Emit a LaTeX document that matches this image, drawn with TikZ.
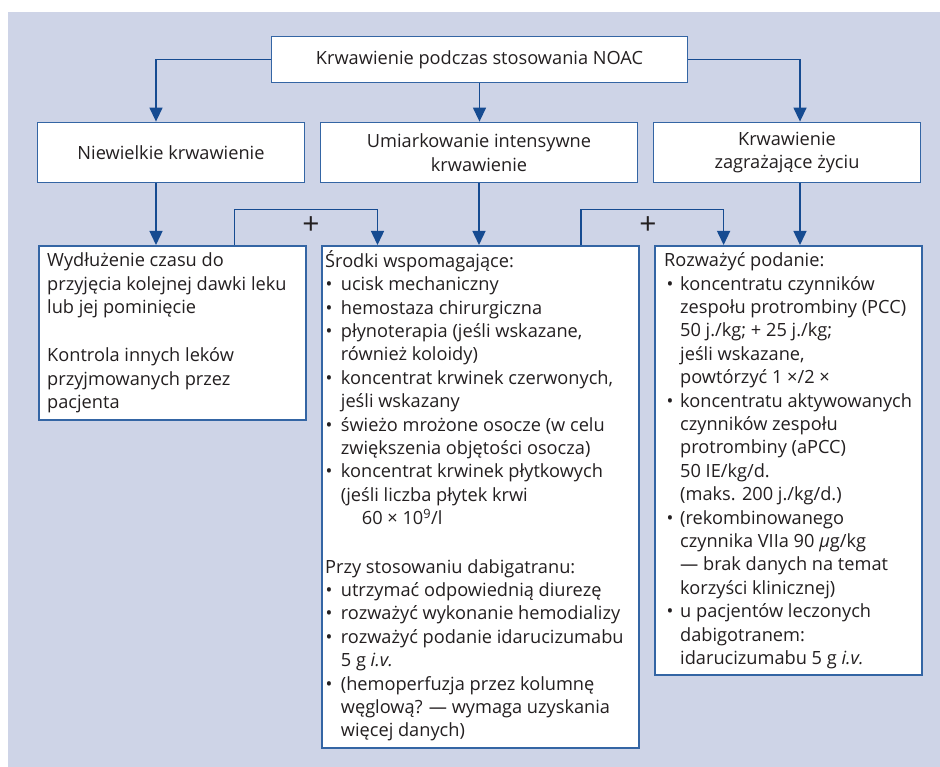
\documentclass[tikz,border=0pt]{standalone}
\usepackage{fontspec}
\setmainfont{Open Sans}
\usetikzlibrary{arrows.meta,calc}

\definecolor{panel}{RGB}{206,212,231}
\definecolor{frame}{RGB}{52,101,164}
\definecolor{flow}{RGB}{22,75,145}
\definecolor{ink}{RGB}{35,31,32}

% bullet marker and hanging indent for list lines
\newlength{\bulpad}\newlength{\bulw}
\newcommand{\bul}{\hspace*{\bulpad}\makebox[\bulw][l]{•}}
\newcommand{\ind}{\hspace*{\bulpad}\hspace*{\bulw}}
\newcommand{\bodyfont}{\fontsize{18.2}{23.4}\selectfont}

\tikzset{
  box/.style={draw=frame, line width=1.8pt, fill=white, inner sep=0pt},
  headtxt/.style={font=\bodyfont, text=ink, align=center},
  listtxt/.style={font=\bodyfont, text=ink, inner sep=0pt, anchor=base west},
  arr/.style={draw=flow, line width=1.4pt, -{Triangle[width=13pt,length=14pt]}},
  plus/.style={font=\fontsize{30}{30}\selectfont, text=ink, inner sep=0pt}
}

\begin{document}
\begin{tikzpicture}[x=1pt,y=-1pt]
\useasboundingbox (0,0) rectangle (940,767);
\fill[panel] (8,12) rectangle (940,767);

% top level
\node[box, minimum width=416pt, minimum height=46pt, headtxt] (top) at (479.5,59.5)
  {Krwawienie podczas stosowania NOAC};

% severity level
\node[box, minimum width=267pt, minimum height=60pt, headtxt] (mild) at (171,152.5)
  {Niewielkie krwawienie};
\node[box, minimum width=317pt, minimum height=60pt, headtxt] (mod) at (479,152.5)
  {Umiarkowanie intensywne\\krwawienie};
\node[box, minimum width=267pt, minimum height=60pt, headtxt] (severe) at (787,152.5)
  {Krwawienie\\zagrażające życiu};

% action level
\node[box, anchor=north west, minimum width=267pt, minimum height=174pt] (act1) at (38,245) {};
\node[box, anchor=north west, minimum width=317pt, minimum height=502pt] (supp) at (321,245) {};
\node[box, anchor=north west, minimum width=267pt, minimum height=429pt] (give) at (654,245) {};

\node[listtxt] (act1txt) at (47,266.7) {\parbox[t]{255pt}{\raggedright
Wydłużenie czasu do\\
przyjęcia kolejnej dawki leku\\
lub jej pominięcie\\[25pt]
Kontrola innych leków\\
przyjmowanych przez\\
pacjenta}};

\node[listtxt] (supptxt) at (325,267.3) {\parbox[t]{310pt}{\raggedright
\setlength{\bulpad}{0.5pt}\setlength{\bulw}{15.2pt}%
Środki wspomagające:\\
\bul ucisk mechaniczny\\
\bul hemostaza chirurgiczna\\
\bul płynoterapia (jeśli wskazane,\\
\ind również koloidy)\\
\bul koncentrat krwinek czerwonych,\\
\ind jeśli wskazany\\
\bul świeżo mrożone osocze (w celu\\
\ind zwiększenia objętości osocza)\\
\bul koncentrat krwinek płytkowych\\
\ind (jeśli liczba płytek krwi\\
\hspace*{36.7pt}60 × 10\textsuperscript{9}/l\\[25pt]
Przy stosowaniu dabigatranu:\\
\bul utrzymać odpowiednią diurezę\\
\bul rozważyć wykonanie hemodializy\\
\bul rozważyć podanie idarucizumabu\\
\ind 5 g \textit{i.v.}\\
\bul (hemoperfuzja przez kolumnę\\
\ind węglową? — wymaga uzyskania\\
\ind więcej danych)}};

\node[listtxt] (givetxt) at (664,266.7) {\parbox[t]{258pt}{\raggedright
\setlength{\bulpad}{2.5pt}\setlength{\bulw}{13.5pt}%
Rozważyć podanie:\\
\bul koncentratu czynników\\
\ind zespołu protrombiny (PCC)\\
\ind 50 j./kg; + 25 j./kg;\\
\ind jeśli wskazane,\\
\ind powtórzyć 1 ×/2 ×\\
\bul koncentratu aktywowanych\\
\ind czynników zespołu\\
\ind protrombiny (aPCC)\\
\ind 50 IE/kg/d.\\
\ind (maks. 200 j./kg/d.)\\
\bul (rekombinowanego\\
\ind czynnika VIIa 90 \textit{μ}g/kg\\
\ind — brak danych na temat\\
\ind korzyści klinicznej)\\
\bul u pacjentów leczonych\\
\ind dabigotranem:\\
\ind idarucizumabu 5 g \textit{i.v.}}};

% branch columns
\coordinate (xl) at (156,0);
\coordinate (xr) at (800,0);
\coordinate (pa) at (234.6,209.6);
\coordinate (pb) at (377.5,209.6);
\coordinate (pc) at (581,209.6);
\coordinate (pd) at (723.6,209.6);

% connectors
\draw[arr] (top.west) -| (xl |- mild.north);
\draw[arr] (top.south) -- (top.south |- mod.north);
\draw[arr] (top.east) -| (xr |- severe.north);
\draw[arr] (xl |- mild.south) -- (xl |- act1.north);
\draw[arr] (mod.south) -- (mod.south |- supp.north);
\draw[arr] (xr |- severe.south) -- (xr |- give.north);
\draw[arr] (pa |- act1.north) |- (pb) -- (pb |- supp.north);
\draw[arr] (pc |- supp.north) |- (pd) -- (pd |- give.north);

\node[plus] (plus1) at (311,226) {+};
\node[plus] (plus2) at (648,226) {+};
\end{tikzpicture}
\end{document}
